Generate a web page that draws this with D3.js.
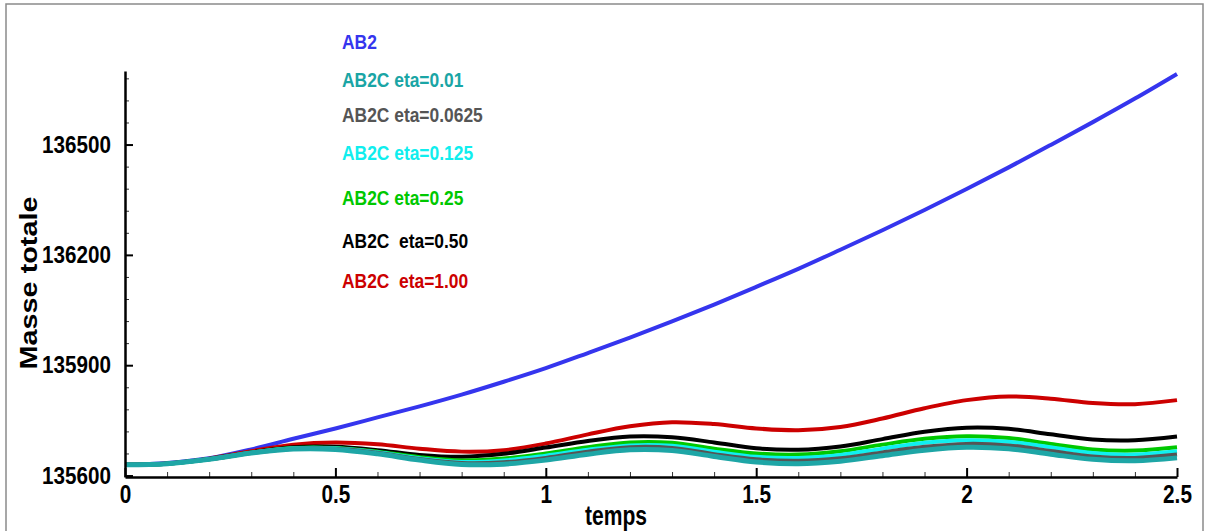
<!DOCTYPE html>
<html><head><meta charset="utf-8">
<script src="https://cdn.jsdelivr.net/npm/d3@7"></script>
<style>
html,body{margin:0;padding:0;background:#fff;}
svg{display:block;}
text{font-family:"Liberation Sans",Arial,Helvetica,sans-serif;font-weight:bold;white-space:pre;}
</style></head><body>
<svg id="chart" width="1208" height="531"></svg>
<script>
const times = [0,0.1,0.2,0.3,0.4,0.5,0.6,0.7,0.8,0.9,1.0,1.1,1.2,1.3,1.4,1.5,1.6,1.7,1.8,1.9,2.0,2.1,2.2,2.3,2.4,2.5];

const massAB2     = [135629,135634,135647,135671,135700,135728,135758,135788,135820,135855,135892,135933,135975,136019,136065,136113,136162,136214,136267,136322,136379,136438,136499,136561,136625,136692];
const massEta001  = [135629,135632,135644,135661,135672,135671,135659,135642,135630,135631,135642,135658,135670,135668,135652,135637,135632,135639,135654,135669,135677,135673,135658,135644,135640,135648];
const massEta0625 = [135629,135632,135644,135661,135673,135673,135662,135645,135634,135636,135648,135665,135677,135675,135658,135644,135640,135647,135663,135678,135686,135682,135667,135652,135648,135657];
const massEta0125 = [135629,135632,135644,135662,135674,135674,135663,135647,135637,135641,135654,135670,135682,135681,135665,135651,135648,135656,135673,135689,135696,135692,135677,135661,135657,135666];
const massEta025  = [135629,135632,135644,135662,135675,135675,135665,135650,135641,135646,135660,135677,135690,135689,135673,135660,135657,135666,135684,135700,135707,135702,135686,135671,135668,135677];
const massEta050  = [135629,135632,135645,135663,135677,135678,135669,135656,135651,135659,135676,135694,135706,135704,135690,135674,135670,135679,135699,135719,135730,135727,135712,135698,135696,135706];
const massEta100  = [135630,135633,135646,135666,135684,135690,135685,135673,135665,135669,135687,135712,135734,135745,135740,135728,135723,135732,135755,135783,135805,135815,135809,135797,135794,135805];

const seriesNames  = ["AB2","AB2C eta=0.01","AB2C eta=0.0625","AB2C eta=0.125","AB2C eta=0.25","AB2C  eta=0.50","AB2C  eta=1.00"];
const seriesColors = ["#3535ee","#1ea6a6","#555555","#10f0f0","#00c800","#000000","#cc0000"];
const legendTextColors = ["#3535ee","#1aa5a5","#555555","#10eeee","#00c800","#000000","#cc0000"];

const xTickValues = [0,0.5,1,1.5,2,2.5];
const xTickLabels = ["0","0.5","1","1.5","2","2.5"];
const xMinorTicks = [0.1,0.2,0.3,0.4,0.6,0.7,0.8,0.9,1.1,1.2,1.3,1.4,1.6,1.7,1.8,1.9,2.1,2.2,2.3,2.4];
const yTickValues = [135600,135900,136200,136500];
const yTickLabels = ["135600","135900","136200","136500"];
const yMinorTicks = [135660,135720,135780,135840,135960,136020,136080,136140,136260,136320,136380,136440,136560,136620,136680];

const xTitle = "temps";
const yTitle = "Masse totale";

const allSeries = [massAB2,massEta001,massEta0625,massEta0125,massEta025,massEta050,massEta100];

const svg = d3.select("#chart");
svg.append("rect").attr("x",6).attr("y",4).attr("width",1197).attr("height",560)
   .attr("fill","#fff").attr("stroke","#8a8a8a").attr("stroke-width",1.5);

const x = d3.scaleLinear().domain([0,2.5]).range([125,1177]);
const y = d3.scaleLinear().domain([135596,136700]).range([477,71]);

function condense(sel,f){
  sel.each(function(){
    const w=this.getComputedTextLength();
    this.setAttribute("textLength",w*f);
    this.setAttribute("lengthAdjust","spacingAndGlyphs");
  });
}

// curves
const line = d3.line().x((d,i)=>x(times[i])).y(d=>y(d)).curve(d3.curveCatmullRom.alpha(0.5));
const drawOrder = [0,6,5,4,3,2,1];
const gLines = svg.append("g");
drawOrder.forEach(k=>{
  gLines.append("path").datum(allSeries[k]).attr("d",line)
    .attr("fill","none").attr("stroke",seriesColors[k])
    .attr("stroke-width", k===1?5:4).attr("stroke-linejoin","round");
});

// x axis
const gx = svg.append("g").attr("transform","translate(0,477)");
gx.call(d3.axisBottom(x).tickValues(xMinorTicks).tickFormat("").tickSizeInner(-5).tickSizeOuter(0))
  .call(g=>g.select(".domain").remove())
  .call(g=>g.selectAll(".tick line").attr("stroke","#333").attr("stroke-width",1));
const gx2 = svg.append("g").attr("transform","translate(0,477)");
gx2.call(d3.axisBottom(x).tickValues(xTickValues).tickFormat((d,i)=>xTickLabels[i]).tickSizeInner(-9).tickSizeOuter(0).tickPadding(8))
  .call(g=>g.select(".domain").attr("stroke","#000").attr("stroke-width",2.5))
  .call(g=>g.selectAll(".tick line").attr("stroke","#000").attr("stroke-width",2))
  .call(g=>g.selectAll(".tick text").attr("font-size",25).attr("fill","#000")
        .style("font-family",'"Liberation Sans",Arial,sans-serif').style("font-weight","bold"));
condense(gx2.selectAll(".tick text"),0.83);

// y axis
const gy = svg.append("g").attr("transform","translate(125,0)");
gy.call(d3.axisLeft(y).tickValues(yMinorTicks).tickFormat("").tickSizeInner(-4).tickSizeOuter(0))
  .call(g=>g.select(".domain").remove())
  .call(g=>g.selectAll(".tick line").attr("stroke","#333").attr("stroke-width",1));
const gy2 = svg.append("g").attr("transform","translate(125,0)");
gy2.call(d3.axisLeft(y).tickValues(yTickValues).tickFormat((d,i)=>yTickLabels[i]).tickSizeInner(-8).tickSizeOuter(0).tickPadding(14))
  .call(g=>g.select(".domain").attr("stroke","#000").attr("stroke-width",2.5))
  .call(g=>g.selectAll(".tick line").attr("stroke","#000").attr("stroke-width",2))
  .call(g=>g.selectAll(".tick text").attr("font-size",24).attr("fill","#000")
        .style("font-family",'"Liberation Sans",Arial,sans-serif').style("font-weight","bold"));
condense(gy2.selectAll(".tick text"),0.86);

// axis titles
const xt = svg.append("text").attr("x",616).attr("y",525).attr("text-anchor","middle")
  .attr("font-size",27).attr("fill","#000").text(xTitle);
xt.attr("textLength",62).attr("lengthAdjust","spacingAndGlyphs");
const yt = svg.append("text").attr("transform","translate(37,283) rotate(-90)").attr("text-anchor","middle")
  .attr("font-size",23).attr("fill","#000").text(yTitle);
yt.attr("textLength",173).attr("lengthAdjust","spacingAndGlyphs");

// legend
const legendBaselines = [49,87,122,160,205,248,288];
const gLeg = svg.append("g");
seriesNames.forEach((n,i)=>{
  const t = gLeg.append("text").attr("x",342).attr("y",legendBaselines[i])
    .attr("font-size",20).attr("fill",legendTextColors[i]).text(n);
  condense(t,0.87);
});
</script>
</body></html>
